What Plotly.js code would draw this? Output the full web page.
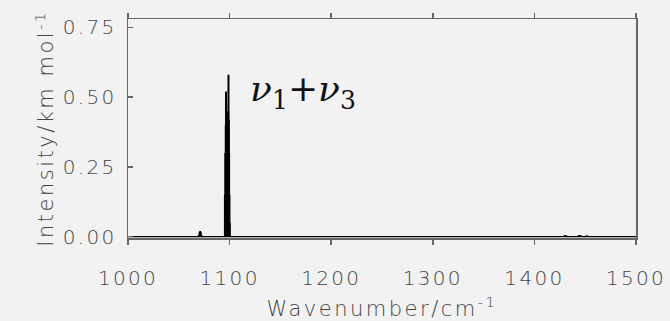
<!DOCTYPE html>
<html><head><meta charset="utf-8">
<script src="https://cdn.plot.ly/plotly-3.0.1.min.js"></script>
<style>html,body{margin:0;padding:0;background:#f2f2f2;}
.main-svg .xtick text,.main-svg .ytick text{letter-spacing:2.3px;}
.main-svg .g-xtitle text,.main-svg .g-ytitle text{letter-spacing:2.5px;}
</style>
</head><body>
<div id="chart" style="width:670px;height:321px;"></div>
<script>
// Stick spectrum: wavenumbers (cm^-1) and intensities (km mol^-1)
const wavenumbers = [1069.8, 1070.4, 1071.0, 1071.6, 1072.2,
  1095.4, 1095.8, 1096.2, 1096.5, 1096.8, 1097.1, 1097.4, 1097.7, 1098.0, 1098.3, 1098.6, 1098.9, 1099.2, 1099.5, 1099.8, 1100.1,
  1429.5, 1430.5, 1431.5, 1443.5, 1444.5, 1445.5, 1450.5, 1451.5, 1452.5];
const intensities = [0.006, 0.016, 0.020, 0.016, 0.006,
  0.15, 0.30, 0.40, 0.52, 0.45, 0.38, 0.36, 0.34, 0.35, 0.40, 0.45, 0.58, 0.42, 0.30, 0.15, 0.05,
  0.004, 0.005, 0.004, 0.005, 0.006, 0.005, 0.003, 0.004, 0.003];
const xTicks = [1000, 1100, 1200, 1300, 1400, 1500];
const yTicks = [0.00, 0.25, 0.50, 0.75];
const yTickText = ["0.00", "0.25", "0.50", "0.75"];
const bandLabel = "<i>ν</i><sub>1</sub>+<i>ν</i><sub>3</sub>";
const bandLabelPos = {x: 1118, y: 0.52};

const xs = [], ys = [];
wavenumbers.forEach((w, i) => { xs.push(w, w, w, null); ys.push(0, intensities[i], 0, null); });

const tickFont = {family: "DejaVu Sans ExtraLight, DejaVu Sans", size: 20, color: "#444", weight: 200};
const titleFont = {family: "DejaVu Sans ExtraLight, DejaVu Sans", size: 21, color: "#444", weight: 200};
const data = [
  {x: xs, y: ys, type: "scatter", mode: "lines", line: {color: "#000", width: 2}, hoverinfo: "skip", connectgaps: false},
  {x: [1000, 1500], y: [0, 0], type: "scatter", mode: "lines", line: {color: "#000", width: 1.4}, hoverinfo: "skip"}
];
const layout = {
  width: 670, height: 321,
  paper_bgcolor: "#f2f2f2", plot_bgcolor: "#f2f2f2",
  margin: {l: 128, r: 34, t: 19, b: 83},
  showlegend: false,
  font: tickFont,
  xaxis: {
    range: [1000, 1500], tickvals: xTicks, ticks: "outside", ticklen: 5, tickcolor: "#666", tickwidth: 1.5,
    showline: true, linecolor: "#666", linewidth: 1.5, mirror: "ticks", showgrid: false, zeroline: false,
    tickfont: tickFont, ticklabelstandoff: 16,
    title: {text: "Wavenumber/cm<sup>-1</sup>", font: titleFont, standoff: 16}
  },
  yaxis: {
    range: [-0.005, 0.78], tickvals: yTicks, ticktext: yTickText, ticks: "inside", ticklen: 5, tickcolor: "#666", tickwidth: 1.5,
    showline: true, linecolor: "#666", linewidth: 1.5, mirror: true, showgrid: false, zeroline: false,
    tickfont: tickFont, ticklabelstandoff: 6,
    title: {text: "Intensity/km mol<sup>-1</sup>", font: titleFont, standoff: 12}
  },
  annotations: [{
    x: bandLabelPos.x, y: bandLabelPos.y, xref: "x", yref: "y", text: bandLabel, showarrow: false,
    xanchor: "left", yanchor: "middle", font: {family: "DejaVu Serif, Liberation Serif, serif", size: 36, color: "#111"}
  }]
};
Plotly.newPlot("chart", data, layout, {displayModeBar: false, staticPlot: true});
</script>
</body></html>
